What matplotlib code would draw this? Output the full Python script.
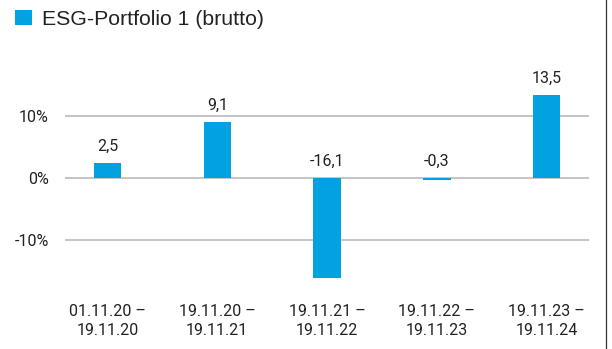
import matplotlib.pyplot as plt
from matplotlib.lines import Line2D

# returns per period, in percent
periods = ["01.11.20 –\n19.11.20", "19.11.20 –\n19.11.21", "19.11.21 –\n19.11.22",
           "19.11.22 –\n19.11.23", "19.11.23 –\n19.11.24"]
returns = [2.5, 9.1, -16.1, -0.3, 13.5]
series_name = "ESG-Portfolio 1 (brutto)"
y_ticks = [-10, 0, 10]
y_tick_labels = ["-10%", "0%", "10%"]

blue = "#00a3df"
text_col = "#222222"
grid_col = "#b4b4b4"
fs = 11.5

W, H = 612, 349
fig = plt.figure(figsize=(W / 100, H / 100), dpi=100)

# axes placed in pixel terms: left 65, right 589, top 60, bottom 288
ax = fig.add_axes([65 / W, 1 - 288 / H, (589 - 65) / W, (288 - 60) / H])

x = list(range(len(returns)))
ax.bar(x, returns, width=0.25, color=blue, label=series_name, zorder=3)

for xi, v in zip(x, returns):
    ax.annotate(f"{v:.1f}".replace(".", ","), (xi, max(v, 0)),
                xytext=(0, 6.5), textcoords="offset points",
                ha="center", va="bottom", fontsize=fs, color=text_col,
                family="Roboto")

ax.set_xlim(-0.387, 4.385)
ax.set_ylim(-(288 - 178.3) / 6.2, (178.3 - 60) / 6.2)

ax.set_yticks(y_ticks)
ax.set_yticklabels(y_tick_labels, family="Roboto", fontsize=fs, color=text_col)
ax.set_xticks(x)
ax.set_xticklabels(periods, family="Roboto", fontsize=fs, color=text_col,
                   linespacing=1.35)
ax.tick_params(axis="y", length=0, pad=11.5)
ax.tick_params(axis="x", length=0, pad=11.5)

ax.yaxis.grid(True, color=grid_col, linewidth=1.1)
ax.set_axisbelow(True)
for s in ax.spines.values():
    s.set_visible(False)

leg = fig.legend(loc="upper left", bbox_to_anchor=(15 / W, 1 - 10 / H),
                 frameon=False, borderpad=0, borderaxespad=0,
                 handlelength=0.82, handleheight=0.74, handletextpad=0.45,
                 prop={"family": "Liberation Sans", "size": 15.3})
for t in leg.get_texts():
    t.set_color(text_col)

# thin frame line on the right edge
fig.add_artist(Line2D([605.5 / W, 605.5 / W], [0, 1], color="#333333",
                      linewidth=0.9, transform=fig.transFigure))

fig.savefig("out.png", dpi=100)
